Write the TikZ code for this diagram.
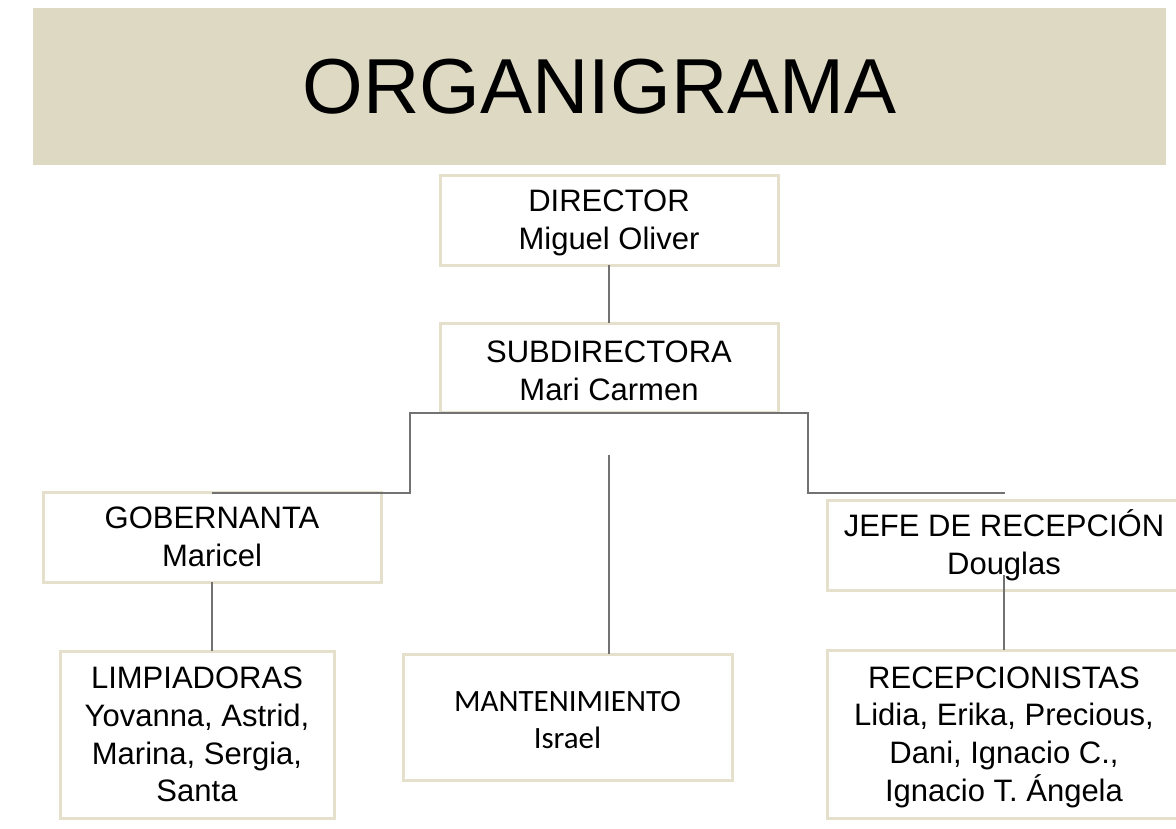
\documentclass[tikz,border=0pt]{standalone}
\usepackage{fontspec}
\setmainfont{Liberation Sans}
\newfontfamily\carlitofont{Carlito}
\definecolor{banner}{HTML}{DDD9C3}
\definecolor{boxline}{HTML}{E4E0CC}
\definecolor{connline}{HTML}{727272}
\newcommand\topstrut{\rule{0pt}{28pt}}
\begin{document}
\begin{tikzpicture}[x=1pt,y=-1pt,
  orgbox/.style={draw=boxline, line width=3pt, fill=white, outer sep=0pt, inner sep=0pt,
    align=center, font=\fontsize{31}{37.8}\selectfont},
  conn/.style={draw=connline, line width=2.2pt}]
\useasboundingbox (0,0) rectangle (1176,828);
\clip (0,0) rectangle (1176,828);
\fill[white] (0,0) rectangle (1176,828);
% title banner
\node[fill=banner, minimum width=1133pt, minimum height=157pt, inner sep=0pt,
  font=\fontsize{78}{80}\selectfont] (title) at (599.5,86.5) {ORGANIGRAMA};
% boxes
\node[orgbox, minimum width=338pt, minimum height=90pt] (dir) at (609,220) {\topstrut DIRECTOR\\Miguel Oliver};
\node[orgbox, minimum width=338pt, minimum height=89pt] (sub) at (609,367.5) {\topstrut SUBDIRECTORA\\Mari Carmen};
\node[orgbox, minimum width=338pt, minimum height=90pt] (gob) at (212,537) {GOBERNANTA\\Maricel};
\node[orgbox, minimum width=354pt, minimum height=90pt] (jefe) at (1004,545) {\topstrut JEFE DE RECEPCIÓN\\Douglas};
\node[orgbox, minimum width=274pt, minimum height=167pt] (limp) at (197,734.5) {LIMPIADORAS\\Yovanna, Astrid,\\Marina, Sergia,\\Santa};
\node[orgbox, minimum width=329pt, minimum height=126pt, font=\carlitofont\fontsize{31}{36.5}\selectfont] (mant) at (567.5,717) {\rule{0pt}{26pt}MANTENIMIENTO\\Israel};
\node[orgbox, minimum width=354pt, minimum height=168pt] (recep) at (1004,734) {\topstrut RECEPCIONISTAS\\Lidia, Erika, Precious,\\Dani, Ignacio C.,\\Ignacio T. Ángela};
% connector points
\coordinate (hl) at (410,413);
\coordinate (hr) at (808,413);
\coordinate (jr) at (1005,493);
\coordinate (gl) at (212,493);
\coordinate (mtop) at (609,455);
% connectors
\draw[conn] (dir.south) -- (sub.north);
\draw[conn] (gl) -- (gl -| hl) -- (hl) -- (hr) -- (hr |- jr) -- (jr);
\draw[conn] (gob.south -| gl) -- (gl |- limp.north);
\draw[conn] (mtop) -- (mtop |- mant.north);
\draw[conn] (jefe.south) ++(0,-15) -- (recep.north);
\end{tikzpicture}
\end{document}
